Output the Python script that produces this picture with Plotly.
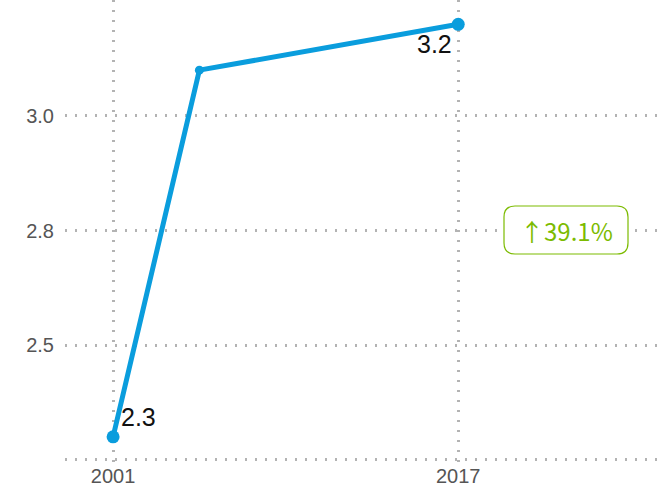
import plotly.graph_objects as go

# Series values
years = [2001, 2005, 2017]
values = [2.3, 3.1, 3.2]

# Axis ticks
x_ticks = [2001, 2017]
y_ticks = [2.25, 2.5, 2.75, 3.0]
y_tick_text = ["", "2.5", "2.8", "3.0"]

LINE_BLUE = "#0a9ddd"
GREEN = "#7cbb00"
GRID = "#b3b3b3"

W, H = 661, 489
ML, MR, MT, MB = 65, 0, 0, 27
PW, PH = W - ML - MR, H - MT - MB

change = (values[-1] / values[0] - 1) * 100

fig = go.Figure()

fig.add_trace(go.Scatter(
    x=years, y=values, mode="lines+markers",
    line=dict(color=LINE_BLUE, width=5),
    marker=dict(color=LINE_BLUE, size=[13, 9, 13], opacity=1, line=dict(width=0)),
    hoverinfo="skip", showlegend=False,
))

# value labels on the end points
fig.add_annotation(x=years[0], y=values[0], text=f"{values[0]:.1f}",
                   showarrow=False, xanchor="left", yanchor="bottom",
                   xshift=6, yshift=4,
                   font=dict(family="Liberation Sans, Arial", size=25, color="#111"))
fig.add_annotation(x=years[-1], y=values[-1], text=f"{values[-1]:.1f}",
                   showarrow=False, xanchor="right", yanchor="top",
                   xshift=-4, yshift=-4,
                   font=dict(family="Liberation Sans, Arial", size=25, color="#111"))


def px_to_paper(px, py):
    return (px - ML) / PW, 1 - (py - MT) / PH


# rounded badge behind the change label
bx0, by0, bx1, by1, r = 504, 206, 628, 254, 11
path = (f"M {bx0 + r},{by0} L {bx1 - r},{by0} Q {bx1},{by0} {bx1},{by0 + r} "
        f"L {bx1},{by1 - r} Q {bx1},{by1} {bx1 - r},{by1} L {bx0 + r},{by1} "
        f"Q {bx0},{by1} {bx0},{by1 - r} L {bx0},{by0 + r} Q {bx0},{by0} {bx0 + r},{by0} Z")


def conv(path_str):
    out = []
    for tok in path_str.split(" "):
        if "," in tok:
            a, b = tok.split(",")
            u, v = px_to_paper(float(a), float(b))
            out.append(f"{u:.5f},{v:.5f}")
        else:
            out.append(tok)
    return " ".join(out)


fig.add_shape(type="path", path=conv(path), xref="paper", yref="paper",
              line=dict(color=GREEN, width=1.2), fillcolor="white", layer="above")

cx, cy = px_to_paper((bx0 + bx1) / 2, (by0 + by1) / 2)
fig.add_annotation(x=cx, y=cy, xref="paper", yref="paper",
                   xanchor="center", yanchor="middle", align="center",
                   text=f"↑{change:.1f}%", showarrow=False,
                   font=dict(family="Noto Sans CJK SC", size=24, color=GREEN))

fig.update_xaxes(
    range=[1998.77, 2026.4], tickvals=x_ticks, ticktext=[str(t) for t in x_ticks],
    showgrid=True, gridcolor=GRID, griddash="2px,8px", gridwidth=2.5,
    zeroline=False, showline=False, ticks="",
    tickfont=dict(family="Liberation Sans, Arial", size=20, color="#555"),
)
fig.update_yaxes(
    range=[2.245, 3.253], tickvals=y_ticks, ticktext=y_tick_text,
    showgrid=True, gridcolor=GRID, griddash="2px,8px", gridwidth=2.5,
    zeroline=False, showline=False, ticks="", ticklabelstandoff=10,
    tickfont=dict(family="Liberation Sans, Arial", size=20, color="#555"),
)

fig.update_layout(
    width=W, height=H,
    margin=dict(l=ML, r=MR, t=MT, b=MB),
    paper_bgcolor="white", plot_bgcolor="white",
)

fig.write_html("out.html")
